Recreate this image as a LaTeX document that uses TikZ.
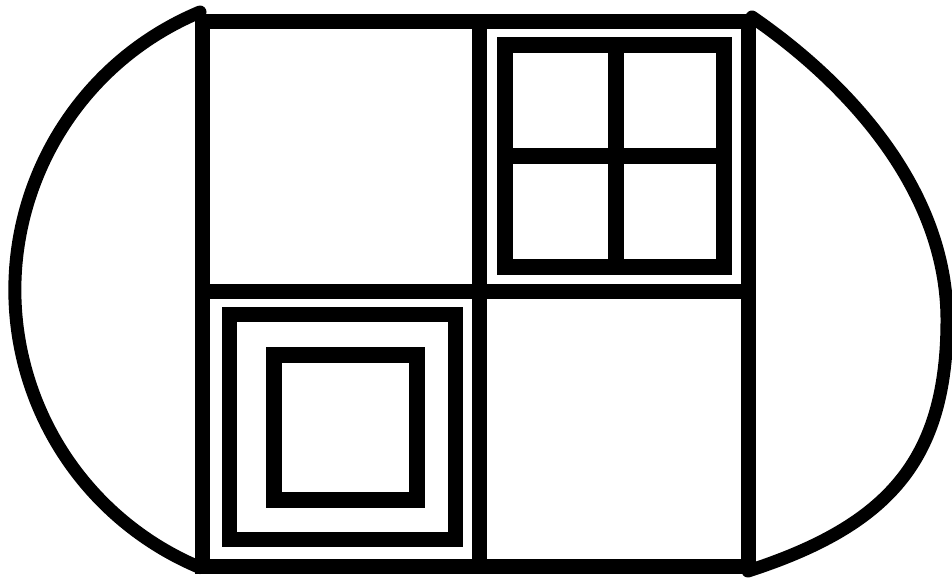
\documentclass[tikz,border=0pt]{standalone}
\usetikzlibrary{calc}
\begin{document}
\begin{tikzpicture}[x=1pt,y=-1pt,
  mainline/.style={line width=15pt,line cap=square,line join=miter},
  arcline/.style={line width=13pt,line cap=round},
  frameline/.style={line width=16pt,line join=miter},
  sqline/.style={line width=15pt,line join=miter}]
\fill[white] (0,0) rectangle (952,582);
\useasboundingbox (0,0) rectangle (952,582);
% side arcs
\draw[arcline] (200,12) arc[start angle=247.35,end angle=112.65,radius=301];
\draw[arcline] (752,17) .. controls (848,83) and (947,190) .. (947,320)
                        .. controls (947,460) and (888.6,525.4) .. (748,571);
% main body
\draw[mainline] (202,21) rectangle (748,566);
\draw[mainline,line cap=butt] (479,21) -- (479,566);
\draw[mainline,line cap=butt] (202,291) -- (748,291);
% window (top right)
\draw[frameline] (505,45) rectangle (724,266.5);
\draw[frameline,line cap=butt] (616,45) -- (616,266.5);
\draw[frameline,line cap=butt] (505,156) -- (724,156);
% nested squares (bottom left)
\draw[sqline] (229.5,314.5) rectangle (455,539.5);
\draw[frameline] (273.5,355) rectangle (417,499.5);
\end{tikzpicture}
\end{document}
